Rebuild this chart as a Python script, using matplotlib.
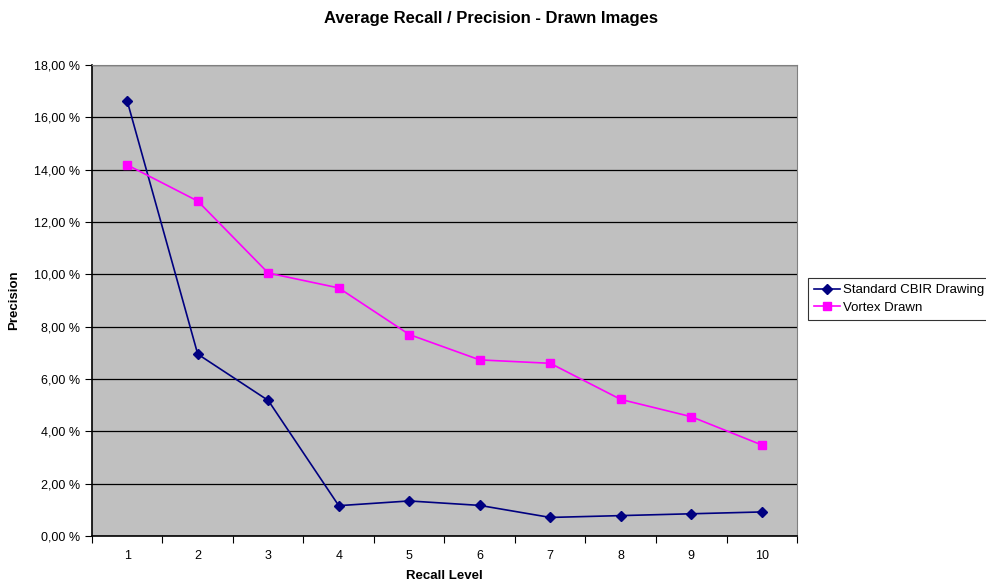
import numpy as np
import matplotlib.pyplot as plt
from matplotlib.ticker import FuncFormatter, FixedLocator

plt.rcParams['font.family'] = ['Liberation Sans', 'DejaVu Sans']

recall_levels = [1, 2, 3, 4, 5, 6, 7, 8, 9, 10]
standard_cbir = [16.62, 6.95, 5.18, 1.16, 1.34, 1.17, 0.71, 0.78, 0.85, 0.92]
vortex_drawn = [14.18, 12.80, 10.05, 9.48, 7.70, 6.73, 6.60, 5.22, 4.56, 3.48]

fig = plt.figure(figsize=(9.87, 5.88), dpi=100)
ax = fig.add_axes([0.0932, 0.0884, 0.7143, 0.8011])
ax.set_facecolor('#C0C0C0')

ax.plot(recall_levels, standard_cbir, color='#000080', marker='D', markersize=5,
        linewidth=1.2, label='Standard CBIR Drawing')
ax.plot(recall_levels, vortex_drawn, color='#FF00FF', marker='s', markersize=6,
        linewidth=1.2, label='Vortex Drawn')

ax.set_xlim(0.5, 10.5)
ax.set_ylim(0, 18)
ax.set_yticks(np.arange(0, 19, 2))
ax.yaxis.set_major_formatter(FuncFormatter(lambda v, p: f'{v:.2f} %'.replace('.', ',')))
ax.grid(axis='y', color='black', linewidth=0.9)
ax.set_axisbelow(True)

ax.xaxis.set_major_locator(FixedLocator(np.arange(0.5, 11, 1)))
ax.xaxis.set_minor_locator(FixedLocator(recall_levels))
ax.set_xticklabels([])
ax.set_xticklabels([str(v) for v in recall_levels], minor=True)
ax.tick_params(axis='x', which='minor', length=0, pad=10, labelsize=9)
ax.tick_params(axis='x', which='major', length=5, direction='out', color='black')
ax.tick_params(axis='y', length=5, direction='out', labelsize=9)

for s in ['top', 'right']:
    ax.spines[s].set_color('#808080')
for s in ['left', 'bottom']:
    ax.spines[s].set_color('black')
    ax.spines[s].set_linewidth(1.2)

ax.set_xlabel('Recall Level', fontsize=9.5, fontweight='bold', labelpad=6)
ax.set_ylabel('Precision', fontsize=9.5, fontweight='bold', labelpad=10)
fig.suptitle('Average Recall / Precision - Drawn Images', fontsize=12,
             fontweight='bold', x=0.497, y=0.982)

leg = fig.legend(loc='upper left', bbox_to_anchor=(808 / 987, 1 - 278 / 588),
                 fontsize=9.5, frameon=True, fancybox=False, edgecolor='black',
                 borderaxespad=0, handlelength=2.0, borderpad=0.45,
                 labelspacing=0.4, handletextpad=0.2)
leg.get_frame().set_linewidth(0.8)

fig.savefig('out.png', dpi=100)
